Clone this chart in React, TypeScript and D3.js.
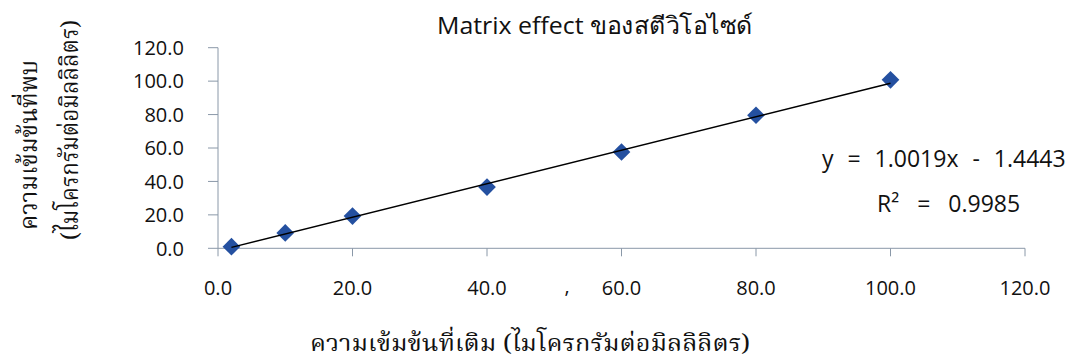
import React from "react";
import * as d3 from "d3";

// Added vs. found concentrations (µg/mL)
const addedConc = [2, 10, 20, 40, 60, 80, 100];
const foundConc = [1.0, 9.2, 19.3, 36.6, 57.6, 79.6, 100.8];

// Linear trendline coefficients and fit quality
const slope = 1.0019;
const intercept = -1.4443;
const rSquared = 0.9985;

const xTicks = [0, 20, 40, 60, 80, 100, 120];
const yTicks = [0, 20, 40, 60, 80, 100, 120];

const title = "Matrix effect ของสตีวิโอไซด์";
const xTitle = "ความเข้มข้นที่เติม (ไมโครกรัมต่อมิลลิลิตร)";
const yTitle1 = "ความเข้มข้นที่พบ";
const yTitle2 = "(ไมโครกรัมต่อมิลลิลิตร)";

const W = 1074;
const H = 362;
const axisColor = "#8a98a8";
const markColor = "#2450a0";
const labelFont = "'Open Sans', 'Noto Sans', sans-serif";
const thaiSerif = "'Noto Serif Thai', 'Noto Sans Thai', 'Noto Sans', serif";

export default function App() {
  const x = d3.scaleLinear().domain([0, 120]).range([218, 1025]);
  const y = d3.scaleLinear().domain([0, 120]).range([248.3, 47.7]);
  const fmt = d3.format(".1f");

  const xMin = d3.min(addedConc) as number;
  const xMax = d3.max(addedConc) as number;
  const trend = d3
    .line<number>()
    .x((d) => x(d))
    .y((d) => y(slope * d + intercept));

  const diamond = d3.symbol().type(d3.symbolDiamond2).size(200)();

  return (
    <svg
      width={W}
      height={H}
      style={{ position: "absolute", left: 0, top: 0, background: "#fff" }}
    >
      <rect width={W} height={H} fill="#fff" />
      <text
        x={595}
        y={34}
        textAnchor="middle"
        fontFamily={labelFont}
        fontSize={24}
        textLength={316}
        lengthAdjust="spacingAndGlyphs"
        fill="#111"
      >
        {title}
      </text>

      {/* y axis */}
      <line x1={x(0)} x2={x(0)} y1={y(0)} y2={y(120)} stroke={axisColor} strokeWidth={1} />
      {yTicks.map((t) => (
        <g key={"y" + t}>
          <line x1={x(0) - 10} x2={x(0)} y1={y(t)} y2={y(t)} stroke={axisColor} />
          <text
            x={184}
            y={y(t)}
            dy="0.36em"
            textAnchor="end"
            fontFamily={labelFont}
            fontSize={20}
            fill="#111"
          >
            {fmt(t)}
          </text>
        </g>
      ))}

      {/* x axis */}
      <line x1={x(0)} x2={x(120)} y1={y(0)} y2={y(0)} stroke={axisColor} strokeWidth={1} />
      {xTicks.map((t) => (
        <g key={"x" + t}>
          <line x1={x(t)} x2={x(t)} y1={y(0)} y2={y(0) + 8} stroke={axisColor} />
          <text
            x={x(t)}
            y={295}
            textAnchor="middle"
            fontFamily={labelFont}
            fontSize={20}
            fill="#111"
          >
            {fmt(t)}
          </text>
        </g>
      ))}
      <text x={567} y={293} textAnchor="middle" fontFamily={labelFont} fontSize={20} fill="#111">
        ,
      </text>

      {/* markers */}
      {addedConc.map((a, i) => (
        <path
          key={"m" + i}
          d={diamond as string}
          transform={`translate(${x(a)},${y(foundConc[i])})`}
          fill={markColor}
        />
      ))}

      {/* trendline */}
      <path d={trend([xMin, xMax]) as string} stroke="#000" strokeWidth={1.5} fill="none" />

      <text
        x={822}
        y={167}
        fontFamily={labelFont}
        fontSize={23}
        wordSpacing={8}
        fill="#111"
      >
        {`y = ${slope.toFixed(4)}x - ${Math.abs(intercept).toFixed(4)}`}
      </text>
      <text
        x={877}
        y={212}
        fontFamily={labelFont}
        fontSize={23}
        wordSpacing={12}
        fill="#111"
      >
        {`R² = ${rSquared.toFixed(4)}`}
      </text>

      {/* axis titles */}
      <text
        x={530}
        y={351}
        textAnchor="middle"
        fontFamily={thaiSerif}
        fontSize={23}
        textLength={440}
        lengthAdjust="spacingAndGlyphs"
        fill="#111"
      >
        {xTitle}
      </text>
      <g transform="translate(37,145) rotate(-90)">
        <text
          x={0}
          y={0}
          textAnchor="middle"
          fontFamily={thaiSerif}
          fontSize={24}
          textLength={170}
          lengthAdjust="spacingAndGlyphs"
          fill="#111"
        >
          {yTitle1}
        </text>
      </g>
      <g transform="translate(78,130) rotate(-90)">
        <text
          x={0}
          y={0}
          textAnchor="middle"
          fontFamily={thaiSerif}
          fontSize={24}
          textLength={220}
          lengthAdjust="spacingAndGlyphs"
          fill="#111"
        >
          {yTitle2}
        </text>
      </g>
    </svg>
  );
}
